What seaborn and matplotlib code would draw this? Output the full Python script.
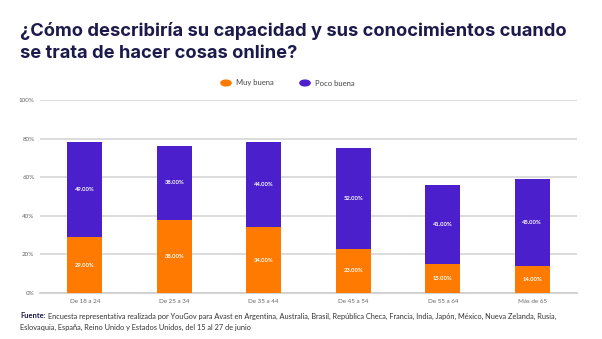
import numpy as np
import pandas as pd
import seaborn as sns
import matplotlib.pyplot as plt

grupos = ["De 18 a 24", "De 25 a 34", "De 35 a 44", "De 45 a 54", "De 55 a 64", "Más de 65"]
muy_buena = [29, 38, 34, 23, 15, 14]
poco_buena = [49, 38, 44, 52, 41, 45]
y_ticks = [0, 20, 40, 60, 80, 100]

naranja = "#FF7A00"
morado = "#4B20CC"
navy = "#1B1A4A"

sns.set_theme(style="white")
plt.rcParams["font.family"] = ["Lato", "DejaVu Sans"]

df = pd.DataFrame({"grupo": grupos, "muy": muy_buena, "poco": poco_buena})
df["total"] = df["muy"] + df["poco"]

fig = plt.figure(figsize=(6.02, 3.39), dpi=100)
ax = fig.add_axes([40 / 602, 1 - 293 / 339, 537 / 602, 193 / 339])

sns.barplot(data=df, x="grupo", y="total", color=morado, width=0.39,
            saturation=1, linewidth=0, ax=ax, zorder=3)
sns.barplot(data=df, x="grupo", y="muy", color=naranja, width=0.39,
            saturation=1, linewidth=0, ax=ax, zorder=3)

for i, (m, p) in enumerate(zip(muy_buena, poco_buena)):
    ax.text(i, m / 2, f"{m:.2f}%", ha="center", va="center", color="white",
            fontsize=4.2, fontweight="bold", zorder=4)
    ax.text(i, m + p / 2, f"{p:.2f}%", ha="center", va="center", color="white",
            fontsize=4.2, fontweight="bold", zorder=4)

ax.set_ylim(0, 100)
ax.set_xlim(-0.5, 5.5)
ax.set_yticks(y_ticks)
ax.set_yticklabels([f"{t}%" for t in y_ticks])
ax.yaxis.grid(True, color="#d9d9d9", linewidth=1.3, zorder=0)
ax.set_xlabel("")
ax.set_ylabel("")
for s in ["top", "right", "left"]:
    ax.spines[s].set_visible(False)
ax.spines["bottom"].set_color("#d0d0d0")
ax.spines["bottom"].set_linewidth(1.3)
ax.tick_params(axis="both", length=0, labelsize=4.5, labelcolor="#666666", pad=4)

titulo = dict(fontsize=13.2, fontweight="bold", color=navy, va="center",
              family=["Inter", "Lato", "DejaVu Sans"])
fig.text(20 / 602, 1 - 31 / 339, "¿Cómo describiría su capacidad y sus conocimientos cuando", **titulo)
fig.text(20 / 602, 1 - 53 / 339, "se trata de hacer cosas online?", **titulo)

# leyenda
fig.patches.append(plt.Circle((226 / 602, 1 - 83 / 339), 0.0085, transform=fig.transFigure,
                              color=naranja, figure=fig))
fig.text(236 / 602, 1 - 83 / 339, "Muy buena", fontsize=5.5, color="#444444", va="center")
fig.patches.append(plt.Circle((305 / 602, 1 - 83 / 339), 0.0085, transform=fig.transFigure,
                              color=morado, figure=fig))
fig.text(315 / 602, 1 - 83 / 339, "Poco buena", fontsize=5.5, color="#444444", va="center")

fuente = fig.text(20 / 602, 1 - 316 / 339, "Fuente:", fontsize=5.5, fontweight="bold",
                  color=navy, va="center")
r = fig.canvas.get_renderer()
x1 = fuente.get_window_extent(r).x1 / (6.02 * 100) + 2 / 602
fig.text(x1, 1 - 316 / 339,
         "Encuesta representativa realizada por YouGov para Avast en Argentina, Australia, Brasil, República Checa, Francia, India, Japón, México, Nueva Zelanda, Rusia,",
         fontsize=5.35, color="#333333", va="center")
fig.text(20 / 602, 1 - 327 / 339,
         "Eslovaquia, España, Reino Unido y Estados Unidos, del 15 al 27 de junio",
         fontsize=5.35, color="#333333", va="center")

fig.savefig("out.png", dpi=100)
